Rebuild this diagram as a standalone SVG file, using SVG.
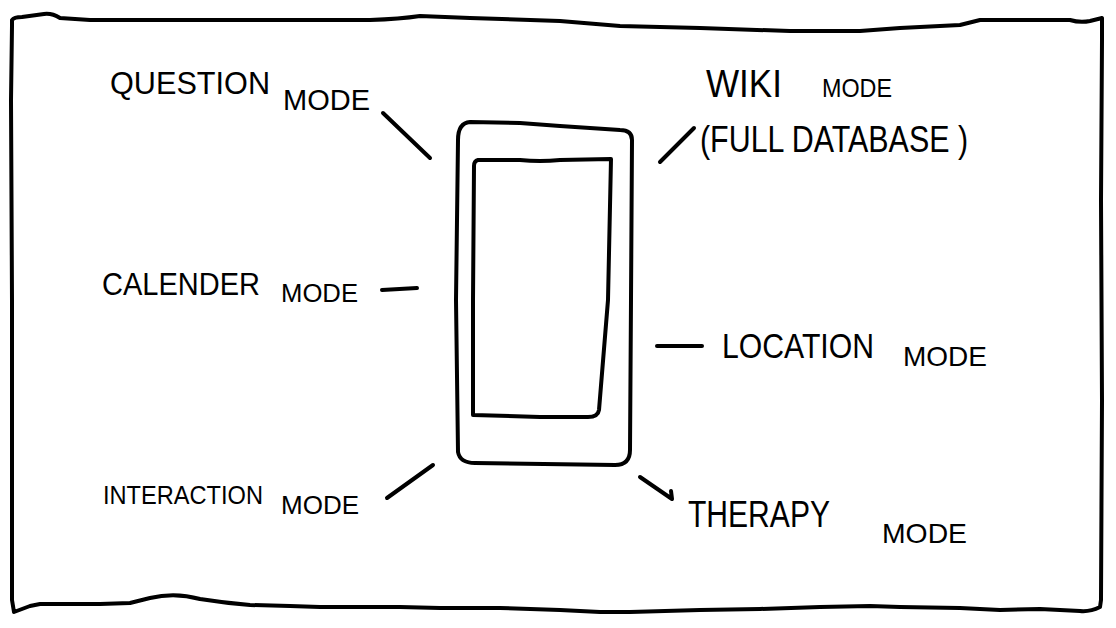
<svg xmlns="http://www.w3.org/2000/svg" width="1116" height="628" viewBox="0 0 1116 628">
<style>
.ink{fill:none;stroke:#000;stroke-width:4;stroke-linecap:round;stroke-linejoin:round}
.lbl{font-family:"Liberation Sans","DejaVu Sans",sans-serif;fill:#000}
</style>
<rect width="1116" height="628" fill="#fff"/>
<g id="frame">
<path class="ink" d="M12,26 L12,20 Q14,17 22,17 L44,14 Q52,13 60,18 L90,20 L370,20 Q400,19 420,16 L470,18 L560,21 L620,26 L700,28 L790,31 L860,31 L900,28 L960,25 Q972,22 980,20 L1070,20 Q1080,23 1090,21 L1102,18 L1102,40 L1101,200 L1102,400 L1101,600 L1100,607 Q1090,612 1080,611 L1040,609 L1000,610 L960,608 L900,607 L870,606 L820,607 L760,609 L700,610 L630,612 L600,612 L560,610 L500,608 L440,608 L400,607 L360,607 L320,607 L290,606 L250,605 Q225,603 200,599 Q175,592 150,598 L130,603 L100,604 L40,604 L30,606 L14,612 L12,600 L12,300 L11,100 Z"/>
</g>
<g id="phone">
<path class="ink" d="M470,122 Q458,123 458,140 L456,300 L458,452 Q460,463 475,463 L615,465 Q630,465 630,450 L631,300 L632,140 Q632,130 620,130 L560,126 L520,123 Z"/>
<path class="ink" d="M478,160 L520,160 Q540,162 560,160 L611,159 L608,300 L599,410 Q598,417 588,417 L540,417 L473,415 L473,300 L474,166 Q474,161 478,160 Z"/>
</g>
<g id="connectors">
<path class="ink" d="M383,113 L430,158"/>
<path class="ink" d="M660,162 L694,128"/>
<path class="ink" d="M382,290 L417,288"/>
<path class="ink" d="M657,346 L702,346"/>
<path class="ink" d="M387,498 L433,465"/>
<path class="ink" d="M640,477 L672,499 L671,491"/>
</g>
<g id="question-mode">
<text class="lbl" x="110" y="94" font-size="32" textLength="160" lengthAdjust="spacingAndGlyphs">QUESTION</text>
<text class="lbl" x="283" y="110" font-size="29" textLength="87" lengthAdjust="spacingAndGlyphs">MODE</text>
</g>
<g id="wiki-mode">
<text class="lbl" x="706" y="97" font-size="38" textLength="76" lengthAdjust="spacingAndGlyphs">WIKI</text>
<text class="lbl" x="822" y="97" font-size="26" textLength="70" lengthAdjust="spacingAndGlyphs">MODE</text>
<text class="lbl" x="700" y="152" font-size="36" textLength="268" lengthAdjust="spacingAndGlyphs">(FULL DATABASE )</text>
</g>
<g id="calender-mode">
<text class="lbl" x="102" y="295" font-size="32" textLength="158" lengthAdjust="spacingAndGlyphs">CALENDER</text>
<text class="lbl" x="281" y="302" font-size="26" textLength="77" lengthAdjust="spacingAndGlyphs">MODE</text>
</g>
<g id="location-mode">
<text class="lbl" x="722" y="358" font-size="35" textLength="152" lengthAdjust="spacingAndGlyphs">LOCATION</text>
<text class="lbl" x="903" y="366" font-size="28" textLength="84" lengthAdjust="spacingAndGlyphs">MODE</text>
</g>
<g id="interaction-mode">
<text class="lbl" x="103" y="504" font-size="26" textLength="160" lengthAdjust="spacingAndGlyphs">INTERACTION</text>
<text class="lbl" x="281" y="514" font-size="26" textLength="78" lengthAdjust="spacingAndGlyphs">MODE</text>
</g>
<g id="therapy-mode">
<text class="lbl" x="688" y="527" font-size="36" textLength="142" lengthAdjust="spacingAndGlyphs">THERAPY</text>
<text class="lbl" x="882" y="543" font-size="28" textLength="85" lengthAdjust="spacingAndGlyphs">MODE</text>
</g>
</svg>
